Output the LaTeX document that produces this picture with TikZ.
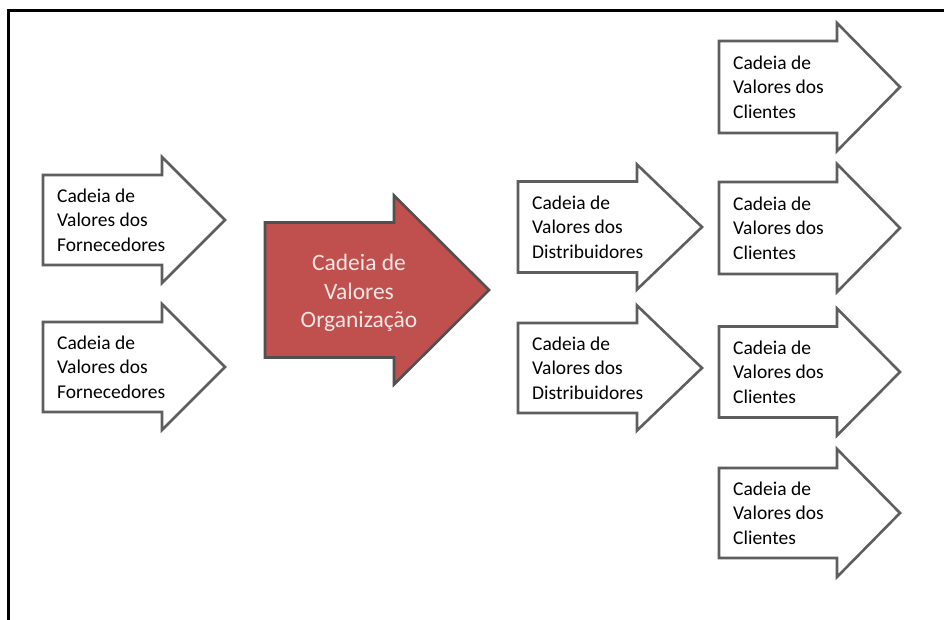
\documentclass[tikz,border=0pt]{standalone}
\usepackage{fontspec}
\setmainfont{Carlito}
\definecolor{arrowgray}{HTML}{5E5E5E}
\definecolor{orgred}{HTML}{C0504D}
\definecolor{orgtextcol}{HTML}{F7E6E6}
% block arrow: #1 style, #2 left x, #3 head x, #4 tip x, #5 centre y, #6 half body, #7 half head
\newcommand\blockarrow[7]{%
  \draw[#1] (#2,#5-#6) -- (#3,#5-#6) -- (#3,#5-#7) -- (#4,#5)
    -- (#3,#5+#7) -- (#3,#5+#6) -- (#2,#5+#6) -- cycle;}
\begin{document}
\begin{tikzpicture}[x=1pt,y=-1pt,
  arrowline/.style={draw=arrowgray, line width=2.6pt, line join=miter},
  plainarrow/.style={arrowline, fill=white},
  mainarrow/.style={arrowline, draw=arrowgray!85!black, fill=orgred},
  chaintext/.style={anchor=west, inner sep=0pt, align=left, text=black,
    font=\fontsize{19.5}{24.5}\selectfont},
  orgtext/.style={inner sep=0pt, align=center, text=orgtextcol,
    font=\fontsize{23.5}{28.5}\selectfont}]
\useasboundingbox (0,0) rectangle (944,620);
\fill[white] (0,0) rectangle (944,620);

% frame (top and left edges)
\draw[line width=3pt, black] (944,11) -- (8,11) -- (8,620);

% suppliers
\blockarrow{plainarrow}{43}{162}{225}{220}{45}{63}
\blockarrow{plainarrow}{43}{162}{225}{367}{45}{63}
\node[chaintext] (forn1) at (57,220) {Cadeia de\\Valores dos\\Fornecedores};
\node[chaintext] (forn2) at (57,367) {Cadeia de\\Valores dos\\Fornecedores};

% organisation
\blockarrow{mainarrow}{265}{394}{489}{290}{67.5}{94.5}
\node[orgtext] (org) at (359,293) {Cadeia de\\Valores\\Organização};

% distributors
\blockarrow{plainarrow}{518}{637}{702}{227}{45.5}{62.5}
\blockarrow{plainarrow}{518}{637}{702}{368}{45}{62.5}
\node[chaintext] (dist1) at (532,227) {Cadeia de\\Valores dos\\Distribuidores};
\node[chaintext] (dist2) at (532,368) {Cadeia de\\Valores dos\\Distribuidores};

% customers
\blockarrow{plainarrow}{719}{837}{900}{87}{46}{64}
\blockarrow{plainarrow}{719}{837}{900}{228}{46}{64}
\blockarrow{plainarrow}{719}{837}{900}{372}{45.5}{63.5}
\blockarrow{plainarrow}{719}{837}{900}{513}{45}{64}
\node[chaintext] (cli1) at (733,87) {Cadeia de\\Valores dos\\Clientes};
\node[chaintext] (cli2) at (733,228) {Cadeia de\\Valores dos\\Clientes};
\node[chaintext] (cli3) at (733,372) {Cadeia de\\Valores dos\\Clientes};
\node[chaintext] (cli4) at (733,513) {Cadeia de\\Valores dos\\Clientes};
\end{tikzpicture}
\end{document}
